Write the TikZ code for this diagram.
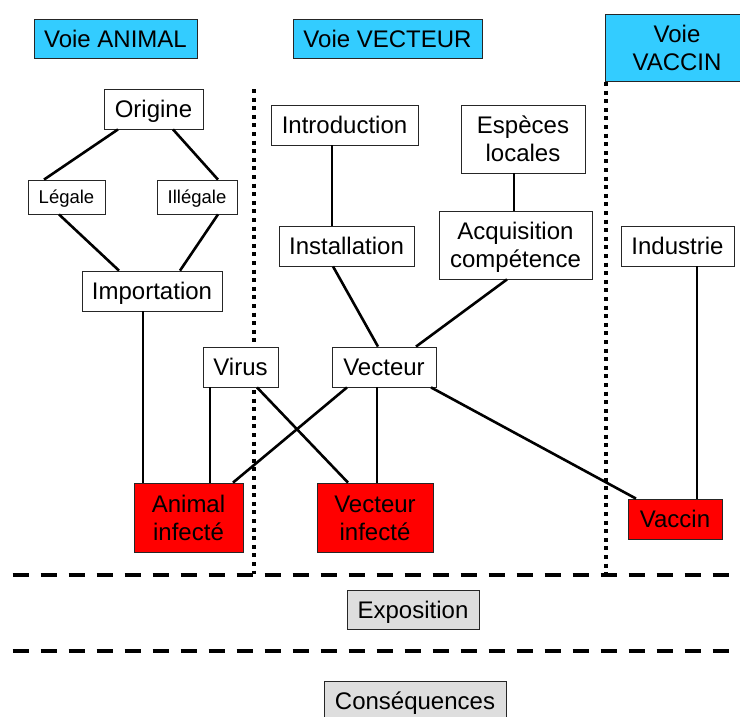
\documentclass[tikz,border=0pt]{standalone}
\usepackage{fontspec}
\setmainfont{Liberation Sans}
\begin{document}
\begin{tikzpicture}[x=1pt,y=-1pt,
  box/.style={draw=black!85,line width=0.8pt,fill=white,inner sep=0pt,
    align=center,font=\fontsize{24}{28}\selectfont,
    text height=17.2pt,text depth=0pt},
  twoline/.style={text height=45.2pt},
  smallbox/.style={box,font=\fontsize{18.5}{22}\selectfont,text height=13.3pt},
  voie/.style={box,fill=voiecol},
  infect/.style={box,fill=red},
  stage/.style={box,fill=black!13},
  link/.style={line width=2.6pt},
  sep/.style={line width=4pt,dash pattern=on 4pt off 4.6pt},
  layer/.style={line width=4pt,dash pattern=on 16.5pt off 11.5pt}]
\definecolor{voiecol}{HTML}{33CCFF}
\useasboundingbox (0,0) rectangle (740,716);
\clip (0,0) rectangle (740,716);

% column separators (drawn first so the boxes sit on top)
\coordinate (sepAtop) at (253.5,89);
\coordinate (sepAbot) at (253.5,574);
\coordinate (sepBtop) at (605.5,82);
\coordinate (sepBbot) at (605.5,574);
\draw[sep] (sepAtop) -- (sepAbot);
\draw[sep] (sepBtop) -- (sepBbot);

% layer separators
\coordinate (layAl) at (12.7,575);
\coordinate (layAr) at (745,575);
\coordinate (layBl) at (12.7,650.5);
\coordinate (layBr) at (745,650.5);
\draw[layer] (layAl) -- (layAr);
\draw[layer] (layBl) -- (layBr);

% column headers
\node[voie,minimum width=163pt,minimum height=39pt] (vanimal) at (115.5,38.5) {Voie ANIMAL};
\node[voie,minimum width=189pt,minimum height=39pt] (vvect) at (387.5,38.5) {Voie VECTEUR};
\node[voie,twoline,minimum width=144pt,minimum height=67pt] (vvacc) at (677,47.5) {Voie\\VACCIN};

% animal path
\node[box,minimum width=99pt,minimum height=40pt] (orig) at (153.5,109) {Origine};
\node[smallbox,minimum width=77pt,minimum height=34pt] (legale) at (66.5,197) {Légale};
\node[smallbox,minimum width=80pt,minimum height=34pt] (illegale) at (197,197) {Illégale};
\node[box,minimum width=140pt,minimum height=40pt] (import) at (152,291) {Importation};

% vector path
\node[box,minimum width=147pt,minimum height=40pt] (intro) at (344.5,125) {Introduction};
\node[box,twoline,minimum width=124pt,minimum height=68pt] (especes) at (523,139) {Espèces\\locales};
\node[box,minimum width=135pt,minimum height=40pt] (install) at (346.5,246) {Installation};
\node[box,twoline,minimum width=153pt,minimum height=68pt] (acq) at (515.5,245) {Acquisition\\compétence};

% vaccine path
\node[box,minimum width=113pt,minimum height=40pt] (industrie) at (677.5,246) {Industrie};

% agents
\node[box,minimum width=75pt,minimum height=40pt] (virus) at (240.5,367) {Virus};
\node[box,minimum width=104pt,minimum height=40pt] (vecteur) at (384,367) {Vecteur};

% infected outcomes
\node[infect,twoline,minimum width=109pt,minimum height=69pt] (animal) at (188.5,517.5) {Animal\\infecté};
\node[infect,twoline,minimum width=116pt,minimum height=69pt] (vinf) at (375,517.5) {Vecteur\\infecté};
\node[infect,minimum width=94pt,minimum height=40pt] (vaccin) at (675,519) {Vaccin};

% later stages
\node[stage,minimum width=132pt,minimum height=39pt] (expo) at (413,609.5) {Exposition};
\node[stage,minimum width=182pt,minimum height=39pt] (cons) at (415,700.5) {Conséquences};

% connectors
\draw[link] ([xshift=-35.5pt]orig.south) -- ([xshift=-22.5pt]legale.north);
\draw[link] ([xshift=19.5pt]orig.south) -- ([xshift=21pt]illegale.north);
\draw[link] ([xshift=-7.5pt]legale.south) -- ([xshift=-33pt]import.north);
\draw[link] ([xshift=21pt]illegale.south) -- ([xshift=28pt]import.north);
\draw[link] ([xshift=-9pt]import.south) -- ([xshift=-45.5pt]animal.north);
\draw[link] ([xshift=-12.5pt]intro.south) -- ([xshift=-14.5pt]install.north);
\draw[link] ([xshift=-9pt]especes.south) -- ([xshift=-1.5pt]acq.north);
\draw[link] ([xshift=-13.5pt]install.south) -- ([xshift=-6pt]vecteur.north);
\draw[link] ([xshift=-8.5pt]acq.south) -- ([xshift=32pt]vecteur.north);
\draw[link] ([xshift=-30.5pt]virus.south) -- ([xshift=21.5pt]animal.north);
\draw[link] ([xshift=16.5pt]virus.south) -- ([xshift=-27pt]vinf.north);
\draw[link] ([xshift=-37pt]vecteur.south) -- ([xshift=44.5pt]animal.north);
\draw[link] ([xshift=-7pt]vecteur.south) -- ([xshift=2pt]vinf.north);
\draw[link] ([xshift=47pt]vecteur.south) -- ([xshift=-39pt]vaccin.north);
\draw[link] ([xshift=19.5pt]industrie.south) -- ([xshift=22pt]vaccin.north);
\end{tikzpicture}
\end{document}
